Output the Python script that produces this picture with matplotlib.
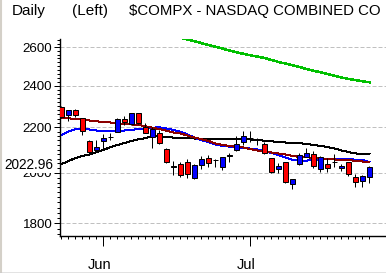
import numpy as np
import matplotlib
matplotlib.use("Agg")
import matplotlib.pyplot as plt
import matplotlib.transforms as mtransforms
from matplotlib.ticker import FixedLocator, NullFormatter
from matplotlib.lines import Line2D

# ---------------- data ----------------
dates = ['05-23', '05-24', '05-25', '05-29', '05-30', '05-31',
         '06-01', '06-04', '06-05', '06-06', '06-07', '06-08', '06-11', '06-12',
         '06-13', '06-14', '06-15', '06-18', '06-19', '06-20', '06-21', '06-22',
         '06-25', '06-26', '06-27', '06-28', '06-29',
         '07-02', '07-03', '07-05', '07-06', '07-09', '07-10', '07-11', '07-12',
         '07-13', '07-16', '07-17', '07-18', '07-19', '07-20', '07-23', '07-24',
         '07-25', '07-26']
opens = [2297, 2256, 2280, 2241, 2138, 2097, 2138, 2155, 2180, 2237, 2214, 2265,
         2203, 2157, 2175, 2101, 2027, 2036, 2045, 1978, 2032, 2062, 2054, 2026,
         2074, 2098, 2132, 2152, 2142, 2124, 2062, 2015, 2045, 1955, 2036, 2069,
         2081, 2018, 2036, 2046, 2019, 2045, 1982, 1965, 1982]
highs = [2300, 2282, 2287, 2241, 2140, 2142, 2168, 2175, 2244, 2251, 2268, 2268,
         2218, 2203, 2186, 2106, 2050, 2045, 2059, 2036, 2073, 2076, 2059, 2068,
         2086, 2161, 2183, 2183, 2150, 2135, 2064, 2043, 2048, 1976, 2084, 2107,
         2094, 2070, 2062, 2081, 2036, 2047, 1995, 1990, 2028]
lows = [2244, 2230, 2246, 2165, 2076, 2088, 2098, 2142, 2178, 2211, 2212, 2216,
        2172, 2106, 2123, 2043, 1990, 1984, 1978, 1975, 2015, 2026, 2026, 2012,
        2047, 2092, 2122, 2135, 2120, 2081, 2001, 1998, 1960, 1933, 2032, 2066,
        2021, 2005, 2003, 2026, 2007, 1987, 1941, 1941, 1960]
closes = [2246, 2280, 2256, 2183, 2088, 2111, 2153, 2156, 2237, 2223, 2265, 2218,
          2175, 2191, 2128, 2047, 2026, 1991, 1995, 2032, 2059, 2041, 2055, 2066,
          2073, 2124, 2158, 2153, 2141, 2086, 2005, 2029, 1964, 1975, 2075, 2085,
          2030, 2066, 2019, 2045, 2029, 1994, 1961, 1987, 2022.96]

ma_red = [2241, 2241, 2240, 2236, 2231, 2228, 2224, 2222, 2218, 2214, 2213, 2211,
          2204, 2198, 2192, 2184, 2176, 2172, 2162, 2153, 2146, 2138, 2127, 2120,
          2116, 2111, 2109, 2102, 2096, 2091, 2087, 2083, 2078, 2072, 2068, 2067,
          2063, 2060, 2059, 2057, 2053, 2053, 2052, 2048, 2048]
ma_blue = [2165, 2181, 2191, 2192, 2190, 2185, 2183, 2183, 2183, 2185, 2188, 2192,
           2195, 2198, 2200, 2194, 2188, 2180, 2167, 2153, 2142, 2133, 2122, 2116,
           2113, 2110, 2107, 2104, 2100, 2094, 2085, 2075, 2065, 2056, 2052, 2052,
           2055, 2058, 2059, 2059, 2059, 2058, 2056, 2055, 2046]
ma_black = [2037, 2050, 2063, 2072, 2078, 2089, 2098, 2111, 2120, 2129, 2138, 2145,
            2151, 2160, 2158, 2156, 2153, 2151, 2150, 2149, 2148, 2147, 2147, 2146,
            2145, 2145, 2145, 2145, 2142, 2139, 2136, 2134, 2131, 2129, 2128, 2125,
            2120, 2116, 2111, 2105, 2096, 2089, 2083, 2081, 2079]
# long average: only the part inside the window (starts at index 17)
ma_green_start = 17
ma_green = [2652, 2643, 2633, 2623, 2612, 2603, 2593, 2583, 2573, 2565, 2557,
            2550, 2543, 2532, 2522, 2513, 2504, 2495, 2485, 2476, 2468, 2459,
            2450, 2441, 2434, 2428, 2422, 2417]

month_ticks = {'Jun': '06-01', 'Jul': '07-02'}
y_major = [1800, 2000, 2200, 2400, 2600]
last_label = '2022.96'
title_parts = ['Daily', '(Left)', '$COMPX - NASDAQ COMBINED CO']

# ---------------- figure ----------------
plt.rcParams['font.family'] = ['Liberation Sans', 'DejaVu Sans']

W, H = 386, 273
fig = plt.figure(figsize=(W / 100, H / 100), dpi=100)
fig.patch.set_facecolor('white')

ax_l, ax_r, ax_t, ax_b = 60, 386, 38.5, 236
ax = fig.add_axes([ax_l / W, (H - ax_b) / H, (ax_r - ax_l) / W, (ax_b - ax_t) / H])
ax.set_facecolor('white')
ax.set_yscale('log')

x = np.arange(len(dates))
opens_a = np.array(opens, float)
closes_a = np.array(closes, float)

px = 0.72  # one pixel in points

# grid lines
for v in y_major:
    ax.axhline(v, color='#c0c0c0', lw=px, ls=(0, (4, 2)), zorder=0.5)

# moving averages
ax.plot(x, ma_black, color='black', lw=px, zorder=2, antialiased=False)
ax.plot(x, ma_red, color='#8b0000', lw=px, zorder=2.1, antialiased=False)
ax.plot(x, ma_blue, color='#0000ff', lw=px, zorder=2.05, antialiased=False)
xg = np.arange(ma_green_start, ma_green_start + len(ma_green))
ax.plot(xg, ma_green, color='#00c000', lw=1.05, zorder=2, antialiased=False)

# candles
ax.vlines(x, lows, highs, color='black', lw=px, zorder=3)
colors = []
for o, c in zip(opens_a, closes_a):
    if abs(c - o) < 2.5:
        colors.append('black')
    elif c > o:
        colors.append('#0000ff')
    else:
        colors.append('#ff0000')
heights = np.maximum(np.abs(closes_a - opens_a), 0.6)
bottoms = np.minimum(opens_a, closes_a)
ax.bar(x, heights, bottom=bottoms, width=0.62, color=colors,
       edgecolor='black', linewidth=px, zorder=4)

# limits
ax.set_xlim(-0.21, 46.36)
ax.set_ylim(1752.9, 2648.3)

# spines
for s in ['top', 'right']:
    ax.spines[s].set_visible(False)
ax.spines['left'].set_linewidth(px * 1.4)
ax.spines['bottom'].set_linewidth(px * 1.4)

# y ticks
ax.yaxis.set_major_locator(FixedLocator(y_major))
ax.set_yticklabels([str(v) for v in y_major])
minor = [v for v in range(1760, 2650, 20) if v not in y_major]
ax.yaxis.set_minor_locator(FixedLocator(minor))
ax.yaxis.set_minor_formatter(NullFormatter())
ax.tick_params(axis='y', which='major', direction='out', length=4.3, width=px,
               pad=1.2, labelsize=9.6, colors='black')
ax.tick_params(axis='y', which='minor', direction='out', length=2.2, width=px)

# x ticks
ax.xaxis.set_minor_locator(FixedLocator(x))
ax.xaxis.set_minor_formatter(NullFormatter())
xt = [dates.index(d) for d in month_ticks.values()]
ax.set_xticks(xt)
ax.set_xticklabels(list(month_ticks.keys()))
ax.tick_params(axis='x', which='major', direction='out', length=7.5, width=px,
               pad=8.5, labelsize=10.5)
ax.tick_params(axis='x', which='minor', direction='out', length=2.4, width=px)
off = mtransforms.ScaledTranslation(-4 / 100, 0, fig.dpi_scale_trans)
for lab in ax.get_xticklabels():
    lab.set_transform(lab.get_transform() + off)

# last close label on the axis
trans = mtransforms.blended_transform_factory(ax.transAxes, ax.transData)
trans = trans + mtransforms.ScaledTranslation(0, 2 / 100, fig.dpi_scale_trans)
ax.text(-7.0 / (ax_r - ax_l), closes[-1], last_label, transform=trans,
        ha='right', va='center', fontsize=9.8, clip_on=False, zorder=10,
        bbox=dict(facecolor='white', edgecolor='none', pad=0.3))

# title
ty = 1 - 11 / H
fig.text(12 / W, ty, title_parts[0], fontsize=11, va='center', ha='left')
fig.text(72 / W, ty, title_parts[1], fontsize=11, va='center', ha='left')
fig.text(129 / W, ty, title_parts[2], fontsize=10.8, va='center', ha='left')

# window frame decorations
fig.add_artist(Line2D([1 / W, 1 / W], [0, 1], color='#d4d0c8', lw=1.5,
                      transform=fig.transFigure))
fig.add_artist(Line2D([0, 1], [1.5 / H, 1.5 / H], color='#c8c8c8', lw=px,
                      ls=(0, (1, 1)), transform=fig.transFigure))

fig.savefig('out.png', dpi=100, facecolor='white')
